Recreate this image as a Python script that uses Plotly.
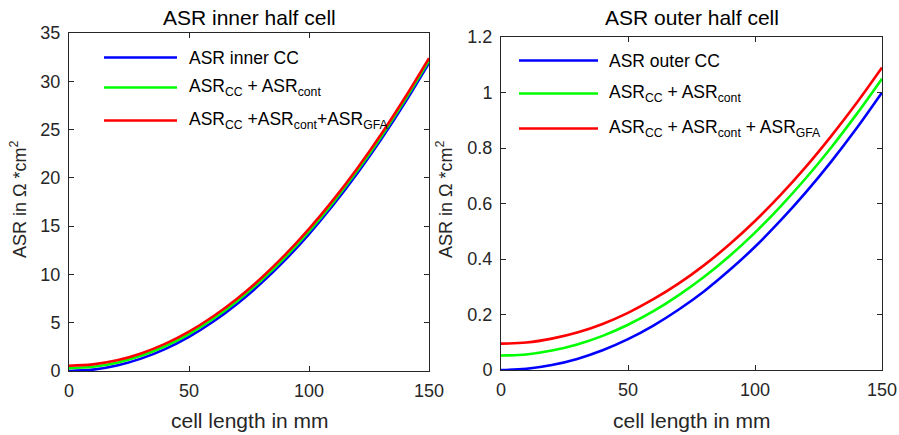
import plotly.graph_objects as go

# Cell length positions (mm)
length_mm = [0, 10, 20, 30, 40, 50, 60, 70, 80, 90, 100, 110, 120, 130, 140, 150]

# Inner half cell ASR (Ohm*cm^2)
inner_cc = [0, 0.14, 0.57, 1.28, 2.27, 3.54, 5.10, 6.95, 9.07, 11.48, 14.18, 17.16, 20.42, 23.96, 27.79, 31.9]
inner_cc_cont = [0.30, 0.44, 0.86, 1.57, 2.56, 3.83, 5.39, 7.23, 9.36, 11.77, 14.46, 17.44, 20.70, 24.24, 28.07, 32.15]
inner_cc_cont_gfa = [0.55, 0.69, 1.11, 1.82, 2.81, 4.08, 5.64, 7.48, 9.61, 12.02, 14.71, 17.69, 20.95, 24.49, 28.32, 32.4]

# Outer half cell ASR (Ohm*cm^2)
outer_cc = [0, 0.0044, 0.018, 0.040, 0.071, 0.111, 0.160, 0.218, 0.284, 0.360, 0.444, 0.538, 0.640, 0.751, 0.871, 1.0]
outer_cc_cont = [0.052, 0.056, 0.070, 0.092, 0.123, 0.163, 0.212, 0.270, 0.336, 0.411, 0.495, 0.589, 0.691, 0.802, 0.922, 1.05]
outer_cc_cont_gfa = [0.095, 0.099, 0.113, 0.135, 0.166, 0.206, 0.255, 0.312, 0.378, 0.453, 0.537, 0.630, 0.732, 0.843, 0.962, 1.09]

inner_labels = ["ASR inner CC",
                "ASR<sub>CC</sub> + ASR<sub>cont</sub>",
                "ASR<sub>CC</sub> +ASR<sub>cont</sub>+ASR<sub>GFA</sub>"]
outer_labels = ["ASR outer CC",
                "ASR<sub>CC</sub> + ASR<sub>cont</sub>",
                "ASR<sub>CC</sub> + ASR<sub>cont</sub> + ASR<sub>GFA</sub>"]
colors = ["#0000FF", "#00FF00", "#FF0000"]

FONT = "Liberation Sans, Arial, Helvetica, sans-serif"
AX = "#262626"

fig = go.Figure()

for series, c in zip([inner_cc, inner_cc_cont, inner_cc_cont_gfa], colors):
    fig.add_trace(go.Scatter(x=length_mm, y=series, mode="lines",
                             line=dict(color=c, width=2.6, shape="spline"),
                             xaxis="x", yaxis="y", showlegend=False))
for series, c in zip([outer_cc, outer_cc_cont, outer_cc_cont_gfa], colors):
    fig.add_trace(go.Scatter(x=length_mm, y=series, mode="lines",
                             line=dict(color=c, width=2.6, shape="spline"),
                             xaxis="x2", yaxis="y2", showlegend=False))

W, H = 899, 435
axis_common = dict(showline=True, linecolor=AX, linewidth=1, mirror="ticks",
                   ticks="inside", ticklen=5, tickcolor=AX, showgrid=False,
                   zeroline=False, automargin=False,
                   tickfont=dict(family=FONT, size=18, color=AX))

fig.update_layout(
    width=W, height=H,
    margin=dict(l=0, r=0, t=0, b=0, pad=0, autoexpand=False),
    paper_bgcolor="white", plot_bgcolor="white",
    font=dict(family=FONT, color=AX),
    xaxis=dict(domain=[69 / W, 429 / W], range=[0, 150], tickvals=[0, 50, 100, 150],
               anchor="y", ticklabelstandoff=3, **axis_common),
    yaxis=dict(domain=[(H - 371) / H, (H - 33) / H], range=[0, 35], dtick=5,
               anchor="x", ticklabelstandoff=4, **axis_common),
    xaxis2=dict(domain=[501 / W, 882 / W], range=[0, 150], tickvals=[0, 50, 100, 150],
                anchor="y2", ticklabelstandoff=3, **axis_common),
    yaxis2=dict(domain=[(H - 370) / H, (H - 37) / H], range=[0, 1.2], dtick=0.2,
                anchor="x2", ticklabelstandoff=4, **axis_common),
)

annotations = []
shapes = []

# Subplot titles and axis titles
for cx, ttl, ylx in [(250, "ASR inner half cell", 19), (692, "ASR outer half cell", 445)]:
    annotations.append(dict(x=cx / W, y=(H - 18) / H, xref="paper", yref="paper",
                            text=ttl, showarrow=False, xanchor="center", yanchor="middle",
                            font=dict(family=FONT, size=21, color="black")))
    annotations.append(dict(x=cx / W, y=(H - 420) / H, xref="paper", yref="paper",
                            text="cell length in mm", showarrow=False,
                            xanchor="center", yanchor="middle",
                            font=dict(family=FONT, size=21, color=AX)))
    annotations.append(dict(x=ylx / W, y=(H - 199) / H, xref="paper", yref="paper",
                            text="ASR in \u03a9 *cm<sup>2</sup>", showarrow=False, textangle=-90,
                            xanchor="center", yanchor="middle",
                            font=dict(family=FONT, size=18, color=AX)))

# Legend entries drawn inside each axes
legend_specs = [
    (inner_labels, 104, 177, 187, [57.5, 87.5, 120.5]),
    (outer_labels, 519, 598, 607, [60.5, 93.5, 128.5]),
]
for labels, x0, x1, xt, ys in legend_specs:
    for lab, c, yy in zip(labels, colors, ys):
        shapes.append(dict(type="line", xref="paper", yref="paper",
                           x0=x0 / W, x1=x1 / W, y0=(H - yy) / H, y1=(H - yy) / H,
                           line=dict(color=c, width=2.6)))
        annotations.append(dict(x=xt / W, y=(H - yy) / H, xref="paper", yref="paper",
                                text=lab, showarrow=False, xanchor="left", yanchor="middle",
                                font=dict(family=FONT, size=17.5, color="black")))

fig.update_layout(annotations=annotations, shapes=shapes)

# Remove the default page margin so the figure fills the window exactly
fig.write_html("out.html",
               post_script="document.body.style.margin='0';"
                           "document.body.style.overflow='hidden';")
